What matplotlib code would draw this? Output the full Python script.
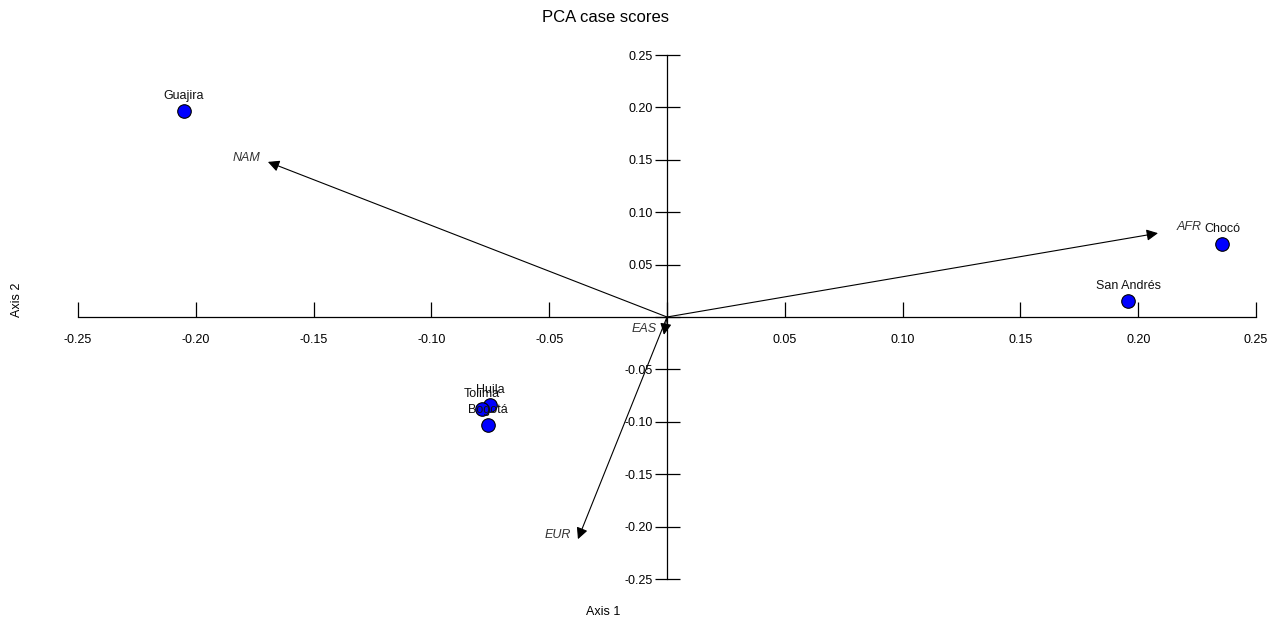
import numpy as np
import matplotlib.pyplot as plt

plt.rcParams['font.family'] = ['Liberation Sans', 'DejaVu Sans']

# case scores
names = ['Guajira', 'Chocó', 'San Andrés', 'Huila', 'Tolima', 'Bogotá']
axis1 = [-0.205, 0.2356, 0.1957, -0.0751, -0.0785, -0.076]
axis2 = [0.1966, 0.0697, 0.0153, -0.084, -0.0878, -0.103]

# variable loadings (arrows)
vars_ = ['NAM', 'AFR', 'EUR', 'EAS']
vx = [-0.1694, 0.2084, -0.0378, -0.0013]
vy = [0.148, 0.080, -0.212, -0.017]

ticks = np.arange(-0.25, 0.251, 0.05)

fig = plt.figure(figsize=(12.8, 6.22), dpi=100)
ax = fig.add_axes([78 / 1280, 1 - 579 / 622, (1256 - 78) / 1280, (579 - 55) / 622])
ax.set_xlim(-0.25, 0.25)
ax.set_ylim(-0.25, 0.25)

ax.spines['left'].set_position(('data', 0))
ax.spines['bottom'].set_position(('data', 0))
ax.spines['right'].set_visible(False)
ax.spines['top'].set_visible(False)
for s in ['left', 'bottom']:
    ax.spines[s].set_linewidth(0.9)

ax.set_xticks(ticks)
ax.set_yticks(ticks)
ax.set_xticklabels(['' if abs(t) < 1e-9 else '%.2f' % t for t in ticks])
ax.set_yticklabels(['' if abs(t) < 1e-9 else '%.2f' % t for t in ticks])
ax.tick_params(axis='x', direction='in', length=11, width=0.9, labelsize=9, pad=12)
ax.tick_params(axis='y', direction='inout', length=18, width=0.9, labelsize=9, pad=1)

# arrows
for name, x, y in zip(vars_, vx, vy):
    ax.annotate('', xy=(x, y), xytext=(0, 0),
                arrowprops=dict(arrowstyle='-|>', color='black', lw=0.8,
                                mutation_scale=17, shrinkA=0, shrinkB=0))
ax.text(vx[0] - 0.003, vy[0] + 0.004, 'NAM', style='italic', color='#333333',
        fontsize=9, ha='right', va='center')
ax.text(vx[1] + 0.008, vy[1] + 0.006, 'AFR', style='italic', color='#333333',
        fontsize=9, ha='left', va='center')
ax.text(vx[2] - 0.003, vy[2] + 0.004, 'EUR', style='italic', color='#333333',
        fontsize=9, ha='right', va='center')
ax.text(vx[3] - 0.003, vy[3] + 0.006, 'EAS', style='italic', color='#333333',
        fontsize=9, ha='right', va='center')

# points
ax.scatter(axis1, axis2, s=95, color='#0000ff', edgecolor='black', linewidth=0.8, zorder=3)
for name, x, y in zip(names, axis1, axis2):
    ax.text(x, y + 0.009, name, fontsize=9, ha='center', va='bottom', color='#111111', zorder=4)

fig.text(605 / 1280, 1 - 17 / 622, 'PCA case scores', ha='center', va='center', fontsize=12)
fig.text(603 / 1280, 1 - 612 / 622, 'Axis 1', ha='center', va='center', fontsize=9)
fig.text(17 / 1280, 1 - 300 / 622, 'Axis 2', ha='center', va='center', fontsize=9, rotation=90)

fig.savefig('out.png', dpi=100)
